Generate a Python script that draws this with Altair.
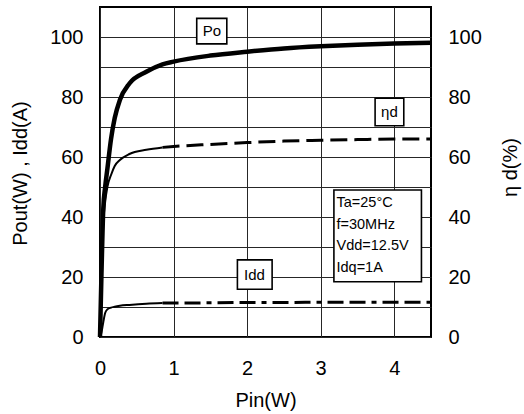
import altair as alt
import pandas as pd

# ---- data ----
pin = [0, 0.02, 0.045, 0.07, 0.1, 0.15, 0.2, 0.27, 0.4, 0.63, 0.85, 1.0, 1.5, 2.0, 2.5, 3.0, 3.5, 4.0, 4.5]
po = [0, 21, 43, 50, 56, 66, 73, 79, 84.5, 88.4, 90.9, 91.8, 93.8, 95.1, 96.2, 96.9, 97.4, 97.8, 98.1]
eta = [0, 18, 38, 45, 50, 54, 57, 59, 61, 62.4, 63.2, 63.5, 64.2, 64.8, 65.3, 65.6, 65.8, 66, 66]
idd = [0, 1.5, 5, 8, 9.2, 9.8, 10.1, 10.4, 10.7, 11.1, 11.3, 11.3, 11.4, 11.5, 11.5, 11.6, 11.6, 11.6, 11.6]

x_ticks = [0, 1, 2, 3, 4]
y_grid = [0, 10, 20, 30, 40, 50, 60, 70, 80, 90, 100]
y_labels = [0, 20, 40, 60, 80, 100]

# annotation boxes (data coordinates)
box_labels = ["Po", "ηd", "Idd"]
box_xc = [1.52, 3.935, 2.1]
box_yc = [102, 75, 20.8]
box_x1 = [1.315, 3.74, 1.868]
box_x2 = [1.724, 4.13, 2.34]
box_y1 = [97.7, 70.4, 15.9]
box_y2 = [106.2, 79.6, 25.7]

info_lines = ["Ta=25°C", "f=30MHz", "Vdd=12.5V", "Idq=1A"]
info_box = {"x1": 3.18, "x2": 4.37, "y1": 18.4, "y2": 49.0, "xt": 3.215, "yt": 44.6}

FONT = "Liberation Sans"
XDOM = [0, 4.5]
YDOM = [0, 110]
GRID = "#262626"

df = pd.DataFrame({"pin": pin, "po": po, "eta": eta, "idd": idd})
ann = pd.DataFrame({"label": box_labels, "xc": box_xc, "yc": box_yc,
                    "x1": box_x1, "x2": box_x2, "y1": box_y1, "y2": box_y2})
info = pd.DataFrame([info_box])

xs = alt.Scale(domain=XDOM, nice=False, zero=False)
ys = alt.Scale(domain=YDOM, nice=False, zero=False)

x_axis = alt.Axis(values=x_ticks, grid=True, gridColor=GRID, gridWidth=1, tickSize=0,
                  domain=False, labelFontSize=20, labelPadding=21, labelFont=FONT,
                  labelColor="black", labelFlush=False, title="Pin(W)", titleFont=FONT,
                  titleFontSize=20, titleFontWeight="normal", titleColor="black", titleY=63,
                  titleBaseline="middle")

left_axis = alt.Axis(values=y_grid, grid=True, gridColor=GRID, gridWidth=1, tickSize=0,
                     domain=False, labelFontSize=20, labelPadding=17, labelFont=FONT,
                     labelColor="black", orient="left", labelFlush=False,
                     labelExpr="datum.value % 20 == 0 ? datum.label : ''",
                     title="Pout(W) , Idd(A)", titleFont=FONT, titleFontSize=20,
                     titleFontWeight="normal", titleColor="black", titleAngle=270,
                     titleX=-80, titleY=166, titleAlign="center", titleBaseline="middle")

right_axis = alt.Axis(values=y_labels, grid=False, tickSize=0, domain=False,
                      labelFontSize=20, labelPadding=17, labelFont=FONT, labelColor="black",
                      orient="right", labelFlush=False, title="η d(%)", titleFont=FONT,
                      titleFontSize=20, titleFontWeight="normal", titleColor="black",
                      titleAngle=270, titleX=79, titleY=160, titleAlign="center",
                      titleBaseline="middle")


def X(field):
    return alt.X(field, type="quantitative", scale=xs, axis=x_axis)


base = alt.Chart(df)

po_line = base.mark_line(color="black", strokeWidth=4.5, interpolate="monotone").encode(
    x=X("pin"),
    y=alt.Y("po:Q", scale=ys, axis=left_axis),
)

eta_dash = base.transform_filter("datum.pin >= 0.85").mark_line(
    color="black", strokeWidth=3, strokeDash=[17, 7], interpolate="monotone").encode(
    x=X("pin"),
    y=alt.Y("eta:Q", scale=ys, axis=right_axis),
)

eta_solid = base.transform_filter("datum.pin <= 0.85").mark_line(
    color="black", strokeWidth=2, interpolate="monotone").encode(
    x=X("pin"),
    y=alt.Y("eta:Q", scale=ys, axis=None),
)

idd_solid = base.transform_filter("datum.pin <= 0.85").mark_line(
    color="black", strokeWidth=2, interpolate="monotone").encode(
    x=X("pin"),
    y=alt.Y("idd:Q", scale=ys, axis=None),
)

idd_dash = base.transform_filter("datum.pin >= 0.85").mark_line(
    color="black", strokeWidth=3, strokeDash=[16, 6, 16, 6, 5, 6], interpolate="monotone").encode(
    x=X("pin"),
    y=alt.Y("idd:Q", scale=ys, axis=None),
)

boxes = alt.Chart(ann).mark_rect(fill="white", stroke="black", strokeWidth=1.6).encode(
    x=X("x1"), x2="x2:Q",
    y=alt.Y("y1:Q", scale=ys, axis=None), y2="y2:Q",
)

box_text = alt.Chart(ann).mark_text(font=FONT, fontSize=15, color="black",
                                     align="center", baseline="middle").encode(
    x=X("xc"),
    y=alt.Y("yc:Q", scale=ys, axis=None),
    text="label:N",
)

info_rect = alt.Chart(info).mark_rect(fill="white", stroke="black", strokeWidth=1.6).encode(
    x=X("x1"), x2="x2:Q",
    y=alt.Y("y1:Q", scale=ys, axis=None), y2="y2:Q",
)

info_text = alt.Chart(info).mark_text(font=FONT, fontSize=14.5, color="black", align="left",
                                      baseline="middle", lineHeight=21.5,
                                      text=info_lines).encode(
    x=X("xt"),
    y=alt.Y("yt:Q", scale=ys, axis=None),
)

chart = alt.layer(
    po_line, eta_dash, eta_solid, idd_solid, idd_dash, boxes, box_text, info_rect, info_text
).resolve_scale(y="independent", x="shared").resolve_axis(x="shared").properties(
    width=331, height=330,
    autosize=alt.AutoSizeParams(type="none"),
    padding={"left": 100, "top": 7, "right": 93, "bottom": 77},
    background="white",
).configure_view(stroke="black", strokeWidth=2)

chart.save("out.html", embed_options={"renderer": "svg", "actions": False})
